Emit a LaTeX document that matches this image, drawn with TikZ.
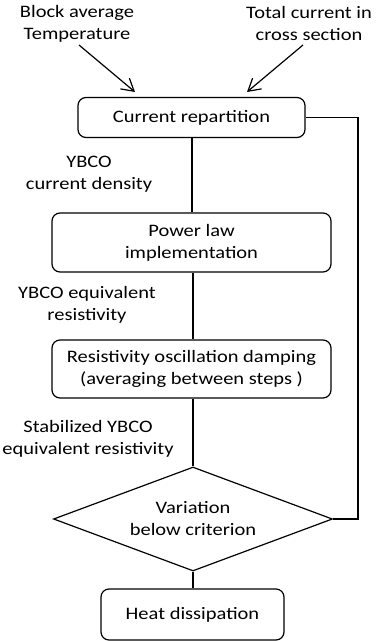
\documentclass[tikz,border=0pt]{standalone}
\usepackage{fontspec}
\setmainfont[FakeStretch=1.17]{Carlito}
\usetikzlibrary{shapes.geometric,arrows.meta}
\begin{document}
\begin{tikzpicture}[x=1pt,y=-1pt,
  every node/.style={font=\fontsize{17.5}{22}\selectfont, align=center, inner sep=0pt},
  procbox/.style={draw, line width=1.2pt, rounded corners=8pt},
  decision/.style={draw, line width=1.2pt, diamond, aspect=2.68, minimum width=279pt, minimum height=104pt},
  conn/.style={line width=1.2pt},
  inarrow/.style={line width=1.2pt, -{Straight Barb[length=12pt,width=14pt]}},
  lbl/.style={}]
\useasboundingbox (0,0) rectangle (376,641);
% top inputs
\node[lbl] (tin) at (77,23.5) {Block average\\Temperature};
\node[lbl] (cin) at (309,23) {Total current in\\cross section};
\coordinate (tins) at (79,45);
\coordinate (tine) at (135,92);
\coordinate (cins) at (303,45);
\coordinate (cine) at (247,92);
% boxes
\node[procbox, minimum width=227pt, minimum height=40pt] (b1) at (191.5,117.5) {Current repartition};
\node[procbox, minimum width=279pt, minimum height=59pt] (b2) at (191.5,242.5) {Power law\\implementation};
\node[procbox, minimum width=279pt, minimum height=58pt] (b3) at (191.5,369) {Resistivity oscillation damping\\(averaging between steps )};
\node[decision] (dia) at (193,519) {Variation\\below criterion};
\node[procbox, minimum width=183pt, minimum height=51pt] (b4) at (192.5,614.5) {Heat dissipation};
% side labels
\node[lbl] (l1) at (89,174) {YBCO\\current density};
\node[lbl] (l2) at (87,305) {YBCO equivalent\\resistivity};
\node[lbl] (l3) at (88,438.5) {Stabilized YBCO\\equivalent resistivity};
% connectors
\draw[inarrow] (tins) -- (tine);
\draw[inarrow] (cins) -- (cine);
\draw[conn] (b1.south -| 192,0) -- (b2.north -| 192,0);
\draw[conn] (b2.south -| 193,0) -- (b3.north -| 193,0);
\draw[conn] (b3.south -| dia.north) -- (dia.north);
\draw[conn] (dia.south) -- (b4.north -| dia.south);
\coordinate (loop) at (358,300);
\draw[conn] (b1.east) -| (loop) |- (dia.east);
\end{tikzpicture}
\end{document}
